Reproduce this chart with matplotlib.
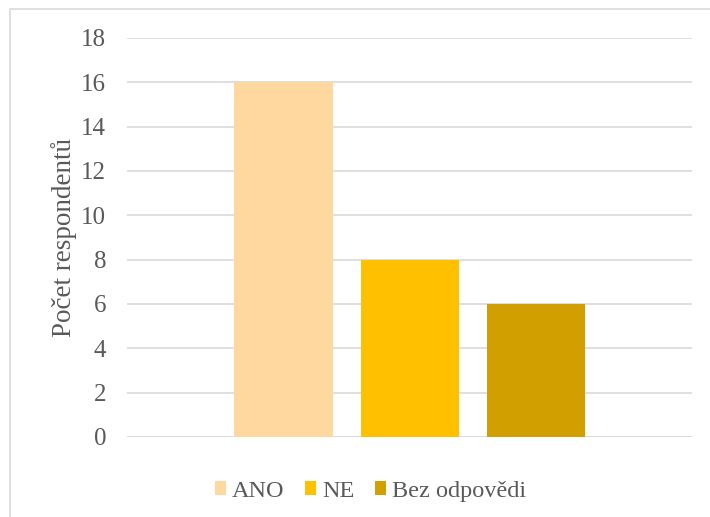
import matplotlib.pyplot as plt
from matplotlib.patches import Rectangle

# odpovědi respondentů
labels = ["ANO", "NE", "Bez odpovědi"]
counts = [16, 8, 6]
colors = ["#FFD8A0", "#FFC000", "#D1A000"]
yticks = [0, 2, 4, 6, 8, 10, 12, 14, 16, 18]

plt.rcParams['font.family'] = ['Liberation Serif', 'DejaVu Serif']
txt = "#595959"

fig = plt.figure(figsize=(7.1, 5.17), dpi=100)
ax = fig.add_axes([0.179, 0.155, 0.796, 0.7715])

offsets = [-0.223, 0.0, 0.223]
for off, val, c, lab in zip(offsets, counts, colors, labels):
    ax.bar(off, val, width=0.174, color=c, label=lab, zorder=3)

ax.set_xlim(-0.5, 0.5)
ax.set_ylim(0, 18)
ax.set_yticks(yticks)
ax.set_xticks([])
ax.grid(axis='y', color="#D9D9D9", linewidth=1.2, zorder=0)
for s in ax.spines.values():
    s.set_visible(False)
ax.axhline(0, color="#D9D9D9", linewidth=1.2, zorder=1)
ax.tick_params(axis='y', length=0, pad=15, labelsize=18, labelcolor=txt)
ax.set_ylabel("Počet respondentů", fontsize=19.5, color=txt, labelpad=3)

ax.legend(loc='upper center', bbox_to_anchor=(0.431, -0.055), ncol=3, frameon=False,
          fontsize=17.5, labelcolor=txt, handlelength=0.45, handleheight=0.45,
          handletextpad=0.25, columnspacing=0.85)

# rámeček grafu
fig.patches.append(Rectangle((10 / 710, -0.05), 1.2, 1 - 9 / 517 + 0.05,
                             transform=fig.transFigure, fill=False,
                             edgecolor="#D9D9D9", linewidth=1.2))

fig.savefig("out.png", dpi=100)
